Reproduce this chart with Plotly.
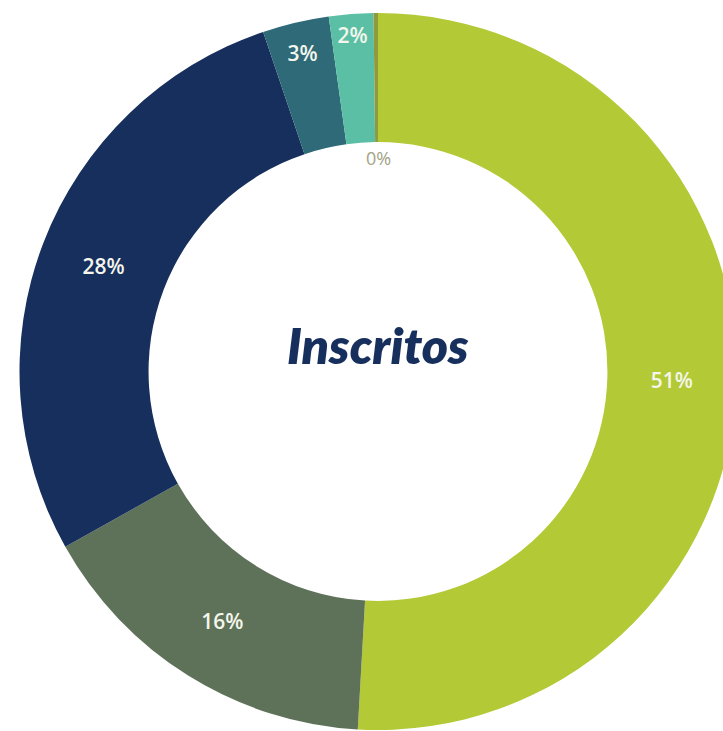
import plotly.graph_objects as go

# Data
categories = ["Categoría 1", "Categoría 2", "Categoría 3", "Categoría 4", "Categoría 5", "Categoría 6"]
values = [51, 16, 28, 3, 2, 0.2]
colors = ["#b3c935", "#5e725a", "#172f5c", "#2e6a78", "#5bbfa5", "#8f9a3c"]
center_title = "Inscritos"

W, H = 756, 731
cx, cy, R = 378, 371.5, 358.5

total = sum(values)
pcts = [round(v / total * 100) for v in values]
texts = [f"{p}%" for p in pcts]
positions = ["inside"] * (len(values) - 1) + ["none"]

fig = go.Figure(
    go.Pie(
        labels=categories,
        values=values,
        sort=False,
        direction="clockwise",
        rotation=0,
        hole=0.64,
        marker=dict(colors=colors, line=dict(width=0)),
        text=texts,
        textinfo="text",
        textposition=positions,
        insidetextorientation="horizontal",
        insidetextfont=dict(family="Open Sans", size=21, color="#f4f6ec", weight=600),
        showlegend=False,
        domain=dict(x=[(cx - R) / W, (cx + R) / W], y=[1 - (cy + R) / H, 1 - (cy - R) / H]),
    )
)

fig.add_annotation(
    x=cx / W, y=1 - 345 / H, xref="paper", yref="paper",
    text=center_title, showarrow=False, xanchor="center", yanchor="middle",
    font=dict(family="Lato", size=50, color="#172f5c", weight=800, style="italic"),
)
fig.add_annotation(
    x=cx / W, y=1 - 158 / H, xref="paper", yref="paper",
    text=texts[-1], showarrow=False, xanchor="center", yanchor="middle",
    font=dict(family="Open Sans", size=18, color="#a2a286"),
)

fig.update_layout(
    width=W, height=H,
    margin=dict(l=0, r=0, t=0, b=0),
    paper_bgcolor="white", plot_bgcolor="white",
)

fig.write_html(
    "out.html",
    config={"displayModeBar": False},
    post_script="document.body.style.margin='0';document.body.style.overflow='hidden';",
)
